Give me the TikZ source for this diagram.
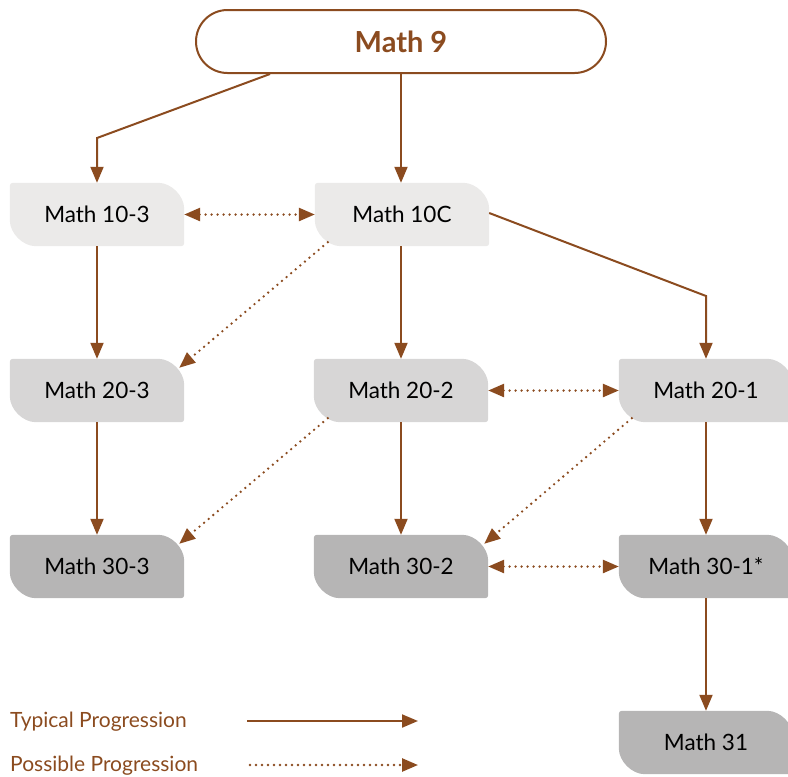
\documentclass[tikz,border=0pt]{standalone}
\usepackage{fontspec}
\setmainfont{Lato}
\usetikzlibrary{arrows.meta,backgrounds}
\definecolor{brn}{HTML}{8B4B1F}
\definecolor{rowA}{HTML}{EBEAE9}
\definecolor{rowB}{HTML}{D7D6D6}
\definecolor{rowC}{HTML}{B6B5B5}
\tikzset{
  mbox/.style={minimum width=174pt, minimum height=63pt, inner sep=0pt, font=\fontsize{22.5}{25}\selectfont, text=black},
  typ/.style={draw=brn, line width=2pt, -{Triangle[length=16pt,width=13pt]}},
  posl/.style={draw=brn, line width=2.6pt, line cap=round, dash pattern=on 0pt off 6pt, -{Triangle[length=16pt,width=13pt,line cap=butt]}},
  posb/.style={posl, {Triangle[length=16pt,width=13pt,line cap=butt]}-{Triangle[length=16pt,width=13pt,line cap=butt]}},
  legtext/.style={anchor=west, inner sep=0pt, text=brn, font=\fontsize{21}{24}\selectfont},
}
\newcommand\boxshape[2]{%
  \fill[#2, rounded corners=3pt] (#1.north west) -- ([xshift=-29pt]#1.north east)
    arc[start angle=90, end angle=0, radius=29pt] -- (#1.south east)
    -- ([xshift=29pt]#1.south west) arc[start angle=270, end angle=180, radius=29pt] -- cycle;}
\begin{document}
\begin{tikzpicture}[x=1pt, y=-1pt]
\useasboundingbox (0,0) rectangle (788,777);
\clip (0,0) rectangle (788,777);
\node[draw=brn, line width=2pt, rounded corners=31.5pt, minimum width=410pt, minimum height=63pt, text=brn, font=\fontsize{29}{32}\selectfont\bfseries] (m9) at (401,41.5) {Math 9};
\node[mbox] (m103) at (97,214.5) {Math 10-3};
\node[mbox] (m10c) at (402,214.5) {Math 10C};
\node[mbox] (m203) at (97,390.5) {Math 20-3};
\node[mbox] (m202) at (401,390.5) {Math 20-2};
\node[mbox] (m201) at (706,390.5) {Math 20-1};
\node[mbox] (m303) at (97,566.5) {Math 30-3};
\node[mbox] (m302) at (401,566.5) {Math 30-2};
\node[mbox] (m301) at (706,566.5) {Math 30-1*};
\node[mbox] (m31) at (706,742.5) {Math 31};
\begin{pgfonlayer}{background}
\boxshape{m103}{rowA}
\boxshape{m10c}{rowA}
\boxshape{m203}{rowB}
\boxshape{m202}{rowB}
\boxshape{m201}{rowB}
\boxshape{m303}{rowC}
\boxshape{m302}{rowC}
\boxshape{m301}{rowC}
\boxshape{m31}{rowC}
\end{pgfonlayer}
% typical
\draw[typ] ([xshift=-131pt]m9.south) -- (m103.north |- 0,138) -- (m103.north);
\draw[typ] (m9.south) -- (m10c.north -| m9.south);
\draw[typ] ([yshift=1.5pt]m10c.east) -- (m201.north |- 0,296) -- (m201.north);
\draw[typ] (m103.south) -- (m203.north);
\draw[typ] (m10c.south -| m202.north) -- (m202.north);
\draw[typ] (m203.south) -- (m303.north);
\draw[typ] (m202.south) -- (m302.north);
\draw[typ] (m201.south) -- (m301.north);
\draw[typ] (m301.south) -- (m31.north);
% possible
\draw[posb] (m103.east) -- (m10c.west);
\draw[posb] (m202.east) -- (m201.west);
\draw[posb] (m302.east) -- (m301.west);
\draw[posl] ([shift={(13pt,4pt)}]m10c.south west) -- ([shift={(-5pt,-9pt)}]m203.north east);
\draw[posl] ([shift={(14pt,4pt)}]m202.south west) -- ([shift={(-5pt,-9pt)}]m303.north east);
\draw[posl] ([shift={(13pt,4pt)}]m201.south west) -- ([shift={(-4pt,-9pt)}]m302.north east);
% legend
\node[legtext] (lt) at (10,722) {Typical Progression};
\node[legtext] (lp) at (10,766) {Possible Progression};
\coordinate (lta) at (247,721);
\coordinate (ltb) at (418,721);
\coordinate (lpa) at (250,765);
\coordinate (lpb) at (418,765);
\draw[typ] (lta) -- (ltb);
\draw[posl] (lpa) -- (lpb);
\end{tikzpicture}
\end{document}
